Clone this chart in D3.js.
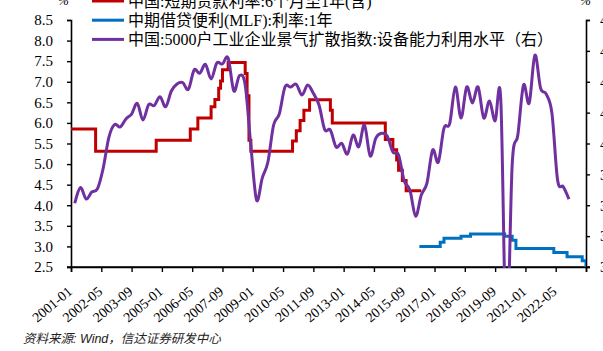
<!DOCTYPE html>
<html><head><meta charset="utf-8">
<script src="https://cdn.jsdelivr.net/npm/d3@7"></script>
<style>body{margin:0;background:#fff;overflow:hidden} svg{display:block}</style>
</head><body>
<svg id="c" width="603" height="351"></svg>
<script>
// ---------- data ----------
const xTickLabels = ["2001-01","2002-05","2003-09","2005-01","2006-05","2007-09","2009-01","2010-05","2011-09","2013-01","2014-05","2015-09","2017-01","2018-05","2019-09","2021-01","2022-05"];
const xDomain = ["2001-01","2023-09"];
const leftTicks = [2.5,3.0,3.5,4.0,4.5,5.0,5.5,6.0,6.5,7.0,7.5,8.0,8.5];
const rightTicks = [32,34,36,38,40,42,44,46,48];

const redDates  = ["2001-01","2002-02","2004-10","2006-04","2006-08","2007-03","2007-05","2007-07","2007-08","2007-09","2007-12","2008-09","2008-10","2008-11","2008-12","2010-10","2010-12","2011-02","2011-04","2011-07","2012-06","2012-07","2014-11","2015-03","2015-05","2015-06","2015-08","2015-10","2016-06"];
const redValues = [5.85,5.31,5.58,5.85,6.12,6.39,6.57,6.84,7.02,7.29,7.47,7.20,6.66,5.58,5.31,5.56,5.81,6.06,6.31,6.56,6.31,6.00,5.60,5.35,5.10,4.85,4.60,4.35,4.35];

const blueDates  = ["2016-05","2017-04","2017-06","2018-03","2018-08","2020-02","2020-06","2020-08","2022-04","2022-11","2023-07","2023-09"];
const blueValues = [3.00,3.10,3.20,3.25,3.30,3.25,3.15,2.95,2.85,2.75,2.65,2.50];

const purpleStart = "2001-03"; // quarterly
const purpleValues = [
 36.13,37.15,36.40,36.86,37.08,38.40,40.40,41.23,41.07,41.59,
 41.91,42.60,41.52,42.52,42.46,43.03,42.38,43.40,43.85,43.94,
 43.51,44.76,44.55,45.12,44.18,45.21,45.15,45.54,43.40,44.40,
 43.79,39.84,36.34,37.76,38.80,41.20,41.91,43.66,43.66,43.83,
 43.14,43.79,43.25,42.49,40.90,40.87,39.77,40.01,39.32,40.55,
 39.79,41.20,39.19,40.35,40.66,40.48,39.45,39.25,37.57,36.99,
 35.30,36.66,37.44,39.58,38.80,41.00,41.29,43.66,41.65,43.66,
 42.62,43.66,41.65,42.75,41.46,42.82,27.00,38.60,40.55,43.79,
 42.62,45.73,43.59,43.20,41.97,37.63,37.20,36.40];

const legendLabels = ["中国:短期贷款利率:6个月至1年(含)","中期借贷便利(MLF):利率:1年","中国:5000户工业企业景气扩散指数:设备能力利用水平（右）"];
const colors = ["#C00000","#0070C0","#7030A0"];
const sourceText = "资料来源: Wind，信达证券研发中心";

// ---------- helpers ----------
const mi = s => { const [y,m] = s.split("-").map(Number); return (y-2001)*12 + (m-1); };
const svg = d3.select("#c");
const L = 71, R = 586, T = 20, B = 267;

const x = d3.scaleLinear().domain(xDomain.map(mi)).range([L, R]);
const yL = d3.scaleLinear().domain([2.5, 8.5]).range([B, T]);
const yR = d3.scaleLinear().domain([32, 48]).range([B, T]);

svg.append("defs").append("clipPath").attr("id","clip")
  .append("rect").attr("x",L).attr("y",T-10).attr("width",R-L).attr("height",B-T+11);

const serif = "'Liberation Serif','Times New Roman','Noto Sans CJK SC',serif";

// axes
const gL = svg.append("g").attr("transform",`translate(${L},0)`)
  .call(d3.axisLeft(yL).tickValues(leftTicks).tickFormat(d3.format(".1f")).tickSize(4).tickPadding(14));
const gR = svg.append("g").attr("transform",`translate(${R},0)`)
  .call(d3.axisRight(yR).tickValues(rightTicks).tickFormat(d3.format("d")).tickSize(4).tickPadding(10));
const gX = svg.append("g").attr("transform",`translate(0,${B})`)
  .call(d3.axisBottom(x).tickValues(xTickLabels.map(mi).concat([mi(xDomain[1])])).tickFormat("").tickSize(5));
[gL,gR,gX].forEach(g=>{
  g.selectAll(".domain").attr("stroke","#000").attr("stroke-width",1.6);
  g.selectAll(".tick line").attr("stroke","#000").attr("stroke-width",1.4);
  g.selectAll("text").attr("font-family",serif).attr("font-size",15).attr("fill","#000");
});
svg.append("line").attr("x1",L-4).attr("x2",R+4).attr("y1",B).attr("y2",B).attr("stroke","#000").attr("stroke-width",1.6);

// x tick labels
svg.append("g").selectAll("text").data(xTickLabels).join("text")
  .attr("transform", d => `translate(${x(mi(d))+2},${B+26}) rotate(-40)`)
  .attr("text-anchor","end")
  .attr("font-family",serif).attr("font-size",14).attr("fill","#000")
  .text(d=>d);

// unit labels
svg.append("text").attr("x",58).attr("y",5).attr("font-family",serif).attr("font-style","italic").attr("font-size",13).text("%");
svg.append("text").attr("x",580).attr("y",5).attr("font-family",serif).attr("font-style","italic").attr("font-size",13).text("%");

// series
const plot = svg.append("g").attr("clip-path","url(#clip)");
const redData = redDates.map((d,i)=>({m:mi(d), v:redValues[i]}));
const blueData = blueDates.map((d,i)=>({m:mi(d), v:blueValues[i]}));
const p0 = mi(purpleStart);
const purpleData = purpleValues.map((v,i)=>({m:p0+3*i, v}));

plot.append("path").datum(redData)
  .attr("d", d3.line().x(d=>x(d.m)).y(d=>yL(d.v)).curve(d3.curveStepAfter))
  .attr("fill","none").attr("stroke",colors[0]).attr("stroke-width",3);
plot.append("path").datum(blueData)
  .attr("d", d3.line().x(d=>x(d.m)).y(d=>yL(d.v)).curve(d3.curveStepAfter))
  .attr("fill","none").attr("stroke",colors[1]).attr("stroke-width",3);
plot.append("path").datum(purpleData)
  .attr("d", d3.line().x(d=>x(d.m)).y(d=>yR(d.v)).curve(d3.curveCardinal.tension(0)))
  .attr("fill","none").attr("stroke",colors[2]).attr("stroke-width",3);

// legend
const lg = svg.append("g");
legendLabels.forEach((t,i)=>{
  const yy = 1 + i*19.2;
  lg.append("line").attr("x1",92).attr("x2",124).attr("y1",yy).attr("y2",yy)
    .attr("stroke",colors[i]).attr("stroke-width",3);
  lg.append("text").attr("x",128).attr("y",yy).attr("dy","0.36em")
    .attr("font-family",serif).attr("font-size",16).attr("fill","#000").text(t);
});

// source
svg.append("text").attr("x",23).attr("y",343)
  .attr("font-family","'Liberation Sans','Noto Sans CJK SC',sans-serif")
  .attr("font-style","italic").attr("font-size",12.5).attr("fill","#222").text(sourceText);
</script>
</body></html>
